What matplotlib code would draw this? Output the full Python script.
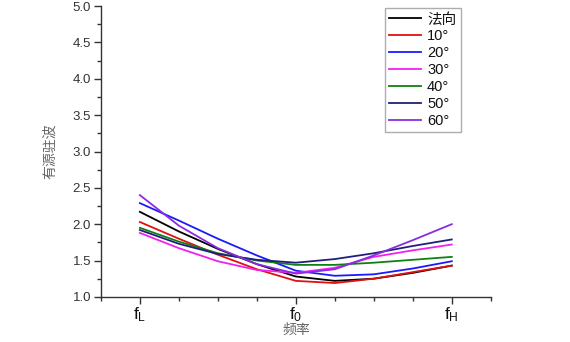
import matplotlib.pyplot as plt
from matplotlib.ticker import MultipleLocator

plt.rcParams['font.family'] = ['Liberation Sans', 'Noto Sans CJK SC']
plt.rcParams['mathtext.fontset'] = 'custom'
plt.rcParams['mathtext.rm'] = 'Liberation Sans'
plt.rcParams['mathtext.it'] = 'Liberation Sans'

# frequency points from f_L (0) through f_0 (4) to f_H (8)
freq = [0, 1, 2, 3, 4, 5, 6, 7, 8]
tick_pos = [0, 4, 8]
tick_labels = ['f$_\\mathrm{L}$', 'f$_\\mathrm{0}$', 'f$_\\mathrm{H}$']

names = ['法向', '10°', '20°', '30°', '40°', '50°', '60°']
vswr_normal = [2.17, 1.90, 1.66, 1.45, 1.28, 1.22, 1.25, 1.33, 1.43]
vswr_10 = [2.03, 1.80, 1.58, 1.38, 1.22, 1.19, 1.25, 1.34, 1.43]
vswr_20 = [2.29, 2.05, 1.80, 1.57, 1.36, 1.29, 1.31, 1.39, 1.49]
vswr_30 = [1.88, 1.67, 1.49, 1.37, 1.33, 1.40, 1.55, 1.64, 1.72]
vswr_40 = [1.95, 1.76, 1.60, 1.50, 1.44, 1.44, 1.47, 1.51, 1.55]
vswr_50 = [1.92, 1.73, 1.59, 1.51, 1.47, 1.52, 1.60, 1.70, 1.79]
vswr_60 = [2.40, 1.98, 1.67, 1.45, 1.32, 1.38, 1.57, 1.78, 2.00]
colors = ['#000000', '#e01010', '#1a1aff', '#f020f0', '#108010', '#20207a', '#8a2be2']

series = [vswr_normal, vswr_10, vswr_20, vswr_30, vswr_40, vswr_50, vswr_60]

fig = plt.figure(figsize=(5.7, 3.42), dpi=100)
ax = fig.add_axes([0.177, 0.132, 0.684, 0.850])

for name, vals, c in zip(names, series, colors):
    ax.plot(freq, vals, color=c, lw=1.3, label=name)

ax.set_xlim(-1, 9)
ax.set_ylim(1.0, 5.0)
ax.set_xticks(tick_pos)
ax.set_xticklabels(tick_labels, fontsize=12.5)
ax.xaxis.set_minor_locator(MultipleLocator(1))
ax.yaxis.set_major_locator(MultipleLocator(0.5))
ax.yaxis.set_minor_locator(MultipleLocator(0.25))
ax.yaxis.set_major_formatter(plt.FormatStrFormatter('%.1f'))

for s in ['top', 'right']:
    ax.spines[s].set_visible(False)
for s in ['left', 'bottom']:
    ax.spines[s].set_color('#333333')
    ax.spines[s].set_linewidth(1.0)

ax.tick_params(axis='both', which='major', direction='out', length=5, width=1.0,
               color='#333333')
ax.tick_params(axis='both', which='minor', direction='out', length=3, width=1.0,
               color='#333333')
ax.tick_params(axis='y', labelsize=9.5, labelcolor='#333333', pad=2)
ax.tick_params(axis='x', labelcolor='#111111', pad=1)

ax.set_xlabel('频率', fontsize=10, color='#666666', family=['Noto Sans CJK SC'],
              labelpad=-1)
ax.set_ylabel('有源驻波', fontsize=10, color='#666666', family=['Noto Sans CJK SC'],
              labelpad=11)

leg = ax.legend(loc='upper right', bbox_to_anchor=(0.923, 0.993), fontsize=10.5,
                frameon=True, fancybox=False, handlelength=2.2, handletextpad=0.4,
                borderpad=0.3, labelspacing=0.2, borderaxespad=0)
leg.get_frame().set_edgecolor('#999999')
leg.get_frame().set_linewidth(1.0)
for t in leg.get_texts():
    t.set_color('#111111')

fig.savefig('out.png', dpi=100)
